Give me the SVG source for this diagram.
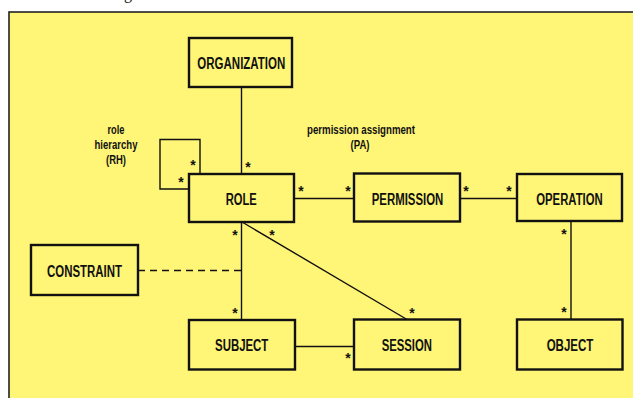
<svg xmlns="http://www.w3.org/2000/svg" width="633" height="398" viewBox="0 0 633 398">
<style>
.box{fill:none;stroke:#111;stroke-width:2.4}
.ln{fill:none;stroke:#111;stroke-width:1.4}
.lbl{font-family:"Liberation Sans",Arial,sans-serif;font-weight:bold;font-size:16px;fill:#111;text-anchor:middle}
.sm{font-family:"Liberation Sans",Arial,sans-serif;font-weight:bold;font-size:12px;fill:#111;text-anchor:middle}
.st{font-family:"Liberation Sans",Arial,sans-serif;font-weight:bold;font-size:14px;fill:#111;text-anchor:middle}
</style>
<rect x="0" y="0" width="633" height="398" fill="#ffffff"/>
<text x="124" y="-1.5" font-family="Liberation Serif,serif" font-size="16" fill="#111">g</text>
<rect x="9" y="12" width="630" height="392" fill="#fff577" stroke="#222" stroke-width="1.6"/>
<g id="connectors">
<line class="ln" x1="241.5" y1="87" x2="241.5" y2="174"/>
<polyline class="ln" points="200,174 200,139.5 160,139.5 160,189 189,189" stroke-width="2"/>
<line class="ln" x1="294" y1="198.5" x2="354" y2="198.5"/>
<line class="ln" x1="460" y1="198.5" x2="517" y2="198.5"/>
<line class="ln" x1="241.5" y1="222" x2="241.5" y2="320"/>
<line class="ln" x1="242" y1="222" x2="407" y2="319.5"/>
<line class="ln" x1="138" y1="270.5" x2="241.5" y2="270.5" stroke-dasharray="7,5"/>
<line class="ln" x1="295" y1="346.5" x2="354" y2="346.5"/>
<line class="ln" x1="571" y1="221" x2="571" y2="319.5"/>
<text class="st" x="193" y="170">*</text>
<text class="st" x="181" y="187">*</text>
<text class="st" x="248" y="172">*</text>
<text class="st" x="301" y="196">*</text>
<text class="st" x="348" y="196">*</text>
<text class="st" x="466" y="196">*</text>
<text class="st" x="509" y="196">*</text>
<text class="st" x="235" y="240">*</text>
<text class="st" x="272" y="240">*</text>
<text class="st" x="235" y="318">*</text>
<text class="st" x="412" y="318">*</text>
<text class="st" x="348" y="363">*</text>
<text class="st" x="564" y="239">*</text>
<text class="st" x="564" y="317">*</text>
<text class="sm" x="116" y="134" textLength="17" lengthAdjust="spacingAndGlyphs">role</text>
<text class="sm" x="116" y="149" textLength="43" lengthAdjust="spacingAndGlyphs">hierarchy</text>
<text class="sm" x="116" y="164" textLength="20" lengthAdjust="spacingAndGlyphs">(RH)</text>
<text class="sm" x="361" y="134" textLength="108" lengthAdjust="spacingAndGlyphs">permission assignment</text>
<text class="sm" x="360" y="149" textLength="19" lengthAdjust="spacingAndGlyphs">(PA)</text>
</g>
<g id="organization"><rect class="box" x="189" y="38" width="103" height="49"/><text class="lbl" x="241.3" y="68.5" textLength="88" lengthAdjust="spacingAndGlyphs">ORGANIZATION</text></g>
<g id="role"><rect class="box" x="189" y="174" width="105" height="48"/><text class="lbl" x="241.3" y="204.5" textLength="31" lengthAdjust="spacingAndGlyphs">ROLE</text></g>
<g id="permission"><rect class="box" x="354" y="173.5" width="106" height="48"/><text class="lbl" x="407.5" y="204.5" textLength="71.5" lengthAdjust="spacingAndGlyphs">PERMISSION</text></g>
<g id="operation"><rect class="box" x="517" y="174" width="105" height="47"/><text class="lbl" x="569.5" y="204.5" textLength="66.5" lengthAdjust="spacingAndGlyphs">OPERATION</text></g>
<g id="constraint"><rect class="box" x="31" y="245" width="107" height="50"/><text class="lbl" x="84.5" y="276.5" textLength="75" lengthAdjust="spacingAndGlyphs">CONSTRAINT</text></g>
<g id="subject"><rect class="box" x="189" y="320" width="106" height="49.5"/><text class="lbl" x="241.7" y="351" textLength="53.3" lengthAdjust="spacingAndGlyphs">SUBJECT</text></g>
<g id="session"><rect class="box" x="354" y="319.5" width="106" height="50"/><text class="lbl" x="406.8" y="351" textLength="50.3" lengthAdjust="spacingAndGlyphs">SESSION</text></g>
<g id="object"><rect class="box" x="517" y="319.5" width="105.5" height="50"/><text class="lbl" x="570" y="351" textLength="46.7" lengthAdjust="spacingAndGlyphs">OBJECT</text></g>
</svg>
